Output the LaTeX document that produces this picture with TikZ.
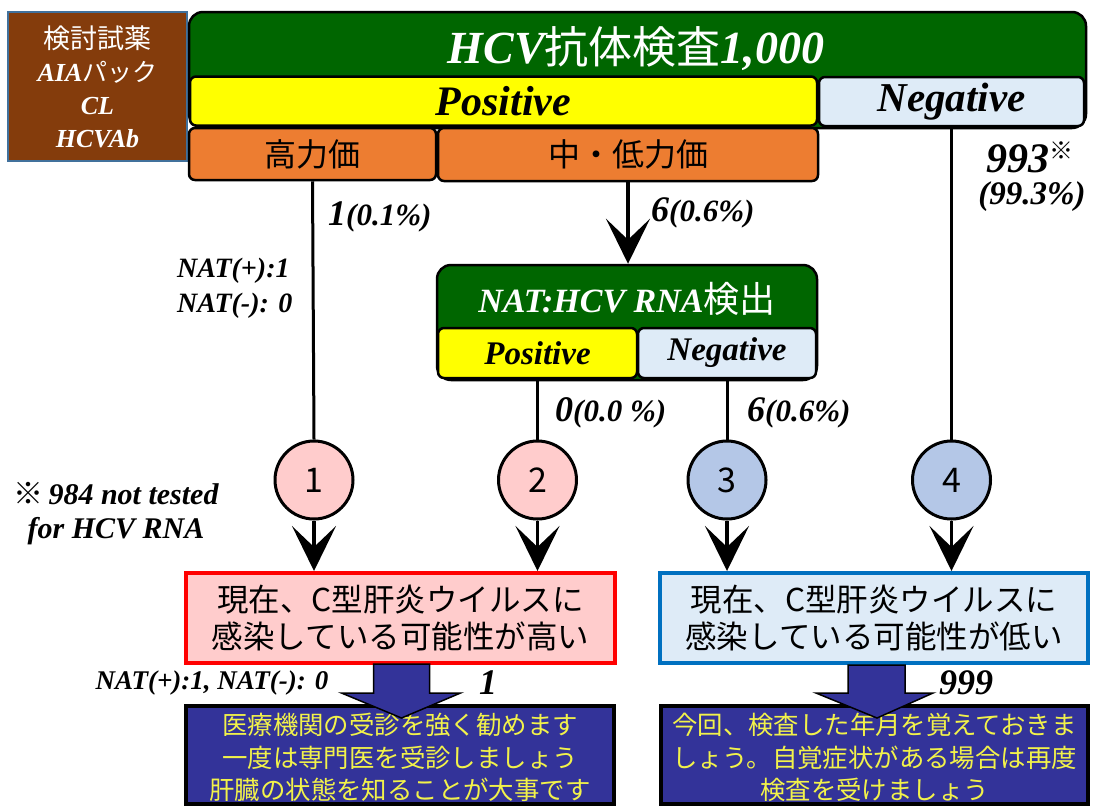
\documentclass[tikz,border=0pt]{standalone}
\usepackage{fontspec}
\setmainfont{Liberation Serif}
\newfontfamily\jp{Noto Sans CJK JP}
\usetikzlibrary{arrows.meta,calc}
\definecolor{hdrgreen}{HTML}{006600}
\definecolor{posyellow}{HTML}{FFFF00}
\definecolor{negblue}{HTML}{DEEBF7}
\definecolor{orangebox}{HTML}{ED7D31}
\definecolor{brownbox}{HTML}{843C0C}
\definecolor{brownedge}{HTML}{41719C}
\definecolor{pinkfill}{HTML}{FFCCCC}
\definecolor{circblue}{HTML}{B4C7E7}
\definecolor{navyfill}{HTML}{333399}
\definecolor{txtyellow}{HTML}{F2F24A}
\definecolor{edgeblue}{HTML}{0070C0}
\newcommand\en[1]{{\rmfamily\bfseries\itshape #1}}
\newcommand\fs[1]{\fontsize{#1}{#1}\selectfont}
\tikzset{
  conn/.style={draw=black, line width=3pt},
  arr/.style={draw=black, line width=3.5pt, -{Stealth[length=45pt,width=44pt,inset=21pt]}},
  bar/.style={draw=black, line width=2.5pt, rounded corners=6pt, inner sep=0pt},
  hdr/.style={bar, fill=hdrgreen, rounded corners=14pt},
  circ/.style={circle, draw=black, line width=3pt, minimum size=78pt, inner sep=0pt, font=\jp\fs{34}},
  lbl/.style={inner sep=0pt, font=\fs{26}},
  blockarrow/.style={fill=navyfill, draw=black, line width=1.5pt},
}
\begin{document}
\begin{tikzpicture}[x=1pt,y=-1pt]
\useasboundingbox (0,0) rectangle (1094,807);

% reagent box
\node[draw=brownedge, fill=brownbox, line width=1.5pt, minimum width=179pt, minimum height=149pt] (reag) at (97.5,86.5) {};
\node[text=white, align=center, inner sep=0pt, font=\fontsize{26}{33}\selectfont] (reagtxt) at (reag) {{\jp\fs{27}検討試薬}\\\en{AIA}{\jp\fs{25}パック}\\\en{CL}\\\en{HCVAb}};

% antibody test
\node[hdr, minimum width=897pt, minimum height=116pt] (anti) at (637.5,70) {};
\node[text=white, inner sep=0pt] (antitxt) at (636,49) {\en{\fs{46}HCV}{\jp\fs{44}抗体検査}\en{\fs{46}1,000}};
\node[bar, fill=posyellow, minimum width=627pt, minimum height=49pt] (pos1) at (503.5,101) {\en{\fs{42}Positive}};
\node[bar, fill=negblue, minimum width=265pt, minimum height=49pt] (neg1) at (951.5,101.5) {\en{\fs{41}Negative}};
\node[bar, fill=orangebox, minimum width=247pt, minimum height=52pt] (high) at (312.5,154) {\jp\fs{32}高力価};
\node[bar, fill=orangebox, minimum width=380pt, minimum height=53pt] (mid) at (628,154.5) {\jp\fs{32}中・低力価};

% NAT test
\node[hdr, minimum width=380pt, minimum height=115pt] (nat) at (627,322.5) {};
\node[text=white, inner sep=0pt] (nattxt) at (627,299) {\en{\fs{34}NAT:HCV RNA}{\jp\fs{36}検出}};
\node[bar, fill=posyellow, minimum width=199pt, minimum height=50pt] (natpos) at (537.5,353) {\en{\fs{33}Positive}};
\node[bar, fill=negblue, minimum width=178pt, minimum height=50pt] (natneg) at (727,353) {\en{\fs{33}Negative}};

% circles
\node[circ, fill=pinkfill] (c1) at (314,480) {1};
\node[circ, fill=pinkfill] (c2) at (537.5,480) {2};
\node[circ, fill=circblue] (c3) at (727,480) {3};
\node[circ, fill=circblue] (c4) at (951.5,480) {4};

% result boxes
\node[draw=red, fill=pinkfill, line width=4pt, minimum width=429pt, minimum height=90pt, align=center, font=\jp\fontsize{31.5}{37}\selectfont] (hi) at (400.5,618) {現在、C型肝炎ウイルスに\\感染している可能性が高い};
\node[draw=edgeblue, fill=negblue, line width=4pt, minimum width=428pt, minimum height=90pt, align=center, font=\jp\fontsize{31.5}{37}\selectfont] (lo) at (874,618) {現在、C型肝炎ウイルスに\\感染している可能性が低い};

% advice boxes
\node[draw=black, fill=navyfill, line width=3.5pt, minimum width=428pt, minimum height=98pt] (adv1) at (400,755) {};
\node[align=center, text=txtyellow, inner sep=0pt, font=\jp\fontsize{25.4}{32.5}\selectfont] (adv1txt) at (400,757.5) {医療機関の受診を強く勧めます\\一度は専門医を受診しましょう\\肝臓の状態を知ることが大事です};
\node[draw=black, fill=navyfill, line width=3.5pt, minimum width=427pt, minimum height=98pt] (adv2) at (874.5,755) {};
\node[align=center, text=txtyellow, inner sep=0pt, font=\jp\fontsize{25.4}{32.5}\selectfont] (adv2txt) at (874.5,757.5) {今回、検査した年月を覚えておきま\\しょう。自覚症状がある場合は再度\\検査を受けましょう};

% connectors
\draw[conn] (high.south) -- (c1.north);
\draw[arr] (mid.south) -- (mid.south |- nat.north);
\draw[conn] (natpos.south) -- (c2.north);
\draw[conn] (natneg.south) -- (c3.north);
\draw[conn] (neg1.south) -- (c4.north);
\draw[arr] (c1.south) -- (c1.south |- hi.north);
\draw[arr] (c2.south) -- (c2.south |- hi.north);
\draw[arr] (c3.south) -- (c3.south |- lo.north);
\draw[arr] (c4.south) -- (c4.south |- lo.north);

% block arrows
\draw[blockarrow] ($(hi.south)+(-27,-1)$) -- ($(hi.south)+(29,-1)$) -- ($(hi.south)+(29,28)$) -- ($(hi.south)+(60,28)$) -- ($(hi.south)+(1,53)$) -- ($(hi.south)+(-59,28)$) -- ($(hi.south)+(-27,28)$) -- cycle;
\draw[blockarrow] ($(lo.south)+(-26,0)$) -- ($(lo.south)+(31,0)$) -- ($(lo.south)+(31,28)$) -- ($(lo.south)+(59,28)$) -- ($(lo.south)+(3,53)$) -- ($(lo.south)+(-58,28)$) -- ($(lo.south)+(-26,28)$) -- cycle;

% labels
\node[lbl, anchor=west] (l1) at (328,217) {\en{\fs{36}1\fs{31}(0.1\%)}};
\node[lbl, anchor=west, align=left, font=\fontsize{28}{35}\selectfont] (lnat) at (177,288) {\en{NAT(+):1}\\\en{NAT(-): 0}};
\node[lbl, anchor=west] (l6) at (651,213) {\en{\fs{36}6\fs{31}(0.6\%)}};
\node[lbl] (l993) at (1030,157) {\en{\fs{42}993}\raisebox{13pt}{\jp\fs{24}※}};
\node[lbl] (l993p) at (1032,197) {\en{\fs{33}(99.3\%)}};
\node[lbl, anchor=west] (l0) at (555,413) {\en{\fs{36}0\fs{31}(0.0 \%)}};
\node[lbl, anchor=west] (l6b) at (747,413) {\en{\fs{36}6\fs{31}(0.6\%)}};
\node[lbl, align=center, font=\fontsize{30}{34}\selectfont] (note) at (116,514) {{\jp ※}\,\en{984 not tested}\\\en{for HCV RNA}};
\node[lbl, font=\fs{27}] (lsum) at (212,683) {\en{NAT(+):1, NAT(-): 0}};
\node[lbl] (lone) at (488,683) {\en{\fs{36}1}};
\node[lbl] (l999) at (966,683) {\en{\fs{36}999}};
\end{tikzpicture}
\end{document}
